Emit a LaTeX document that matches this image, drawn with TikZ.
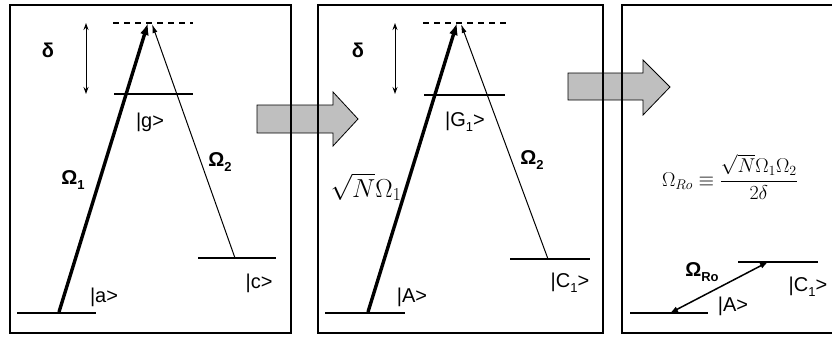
\documentclass[tikz,border=0pt]{standalone}
\usepackage{fix-cm}
\usepackage{amsmath}
\usepackage{fontspec}
\setmainfont{Liberation Sans}
\usetikzlibrary{arrows.meta}
\usetikzlibrary{positioning}
\newcommand{\sbx}[1]{\raisebox{-0.45ex}{\fontsize{13}{13}\selectfont #1}}

\begin{document}
\begin{tikzpicture}[x=1pt,y=-1pt,
  every node/.style={inner sep=0pt,font=\fontsize{20}{20}\selectfont},
  lvl/.style={line width=1.5pt},
  frame/.style={line width=1.5pt},
  strong/.style={-{Latex[length=12pt,width=9pt]},line width=3.4pt},
  weak/.style={-{Latex[length=9pt,width=5pt]},line width=1pt},
  gap/.style={{Stealth[length=7pt,width=5pt]}-{Stealth[length=7pt,width=5pt]},line width=1pt},
  rabi/.style={{Latex[length=8pt,width=6pt]}-{Latex[length=8pt,width=6pt]},line width=1.5pt},
  virt/.style={line width=1.5pt,dash pattern=on 6pt off 5pt},
  flow/.style={fill=black!25,draw=black,line width=0.8pt},
  big/.style={font=\fontsize{20}{20}\selectfont\bfseries},
]
\useasboundingbox (0,0) rectangle (832,337);
\clip (0,0) rectangle (832,337);
% block arrows between the panels
\draw[flow] (257,105) -- (333,105) -- (333,92) -- (358,119) -- (333,146) -- (333,133) -- (257,133) -- cycle;
\draw[flow] (568,73) -- (643,73) -- (643,60) -- (670,87) -- (643,115) -- (643,100) -- (568,100) -- cycle;
% frames
\draw[frame] (10,5) rectangle (291,333);
\draw[frame] (318,5) rectangle (603,333);
\draw[frame] (622,5) rectangle (845,333);

% panel 1
\draw[virt] (113,23) -- (193,23);
\draw[lvl] (114,94) -- (193,94);
\draw[lvl] (17,313) -- (96,313);
\draw[lvl] (198,258) -- (276,258);
\coordinate (top1) at (148,23); \coordinate (top1b) at (152,24);
\coordinate (a1) at (59,312); \coordinate (c1) at (235,258);
\coordinate (d1t) at (86,23); \coordinate (d1b) at (86,94);
\draw[strong] (a1) -- (top1);
\draw[weak] (c1) -- (top1b);
\draw[gap] (d1t) -- (d1b);
\node[big] (delta1) at (48,50) {δ};
\node (ka) at (104,297) {|a>};
\node (kg) at (150,122) {|g>};
\node (kc) at (259,283) {|c>};
\node[big] (om1) at (73,180) {Ω\sbx{1}};
\node[big] (om2) at (220,162) {Ω\sbx{2}};

% panel 2
\draw[virt] (423,23) -- (507,23);
\draw[lvl] (424,95) -- (505,95);
\draw[lvl] (325,313) -- (405,313);
\draw[lvl] (510,259) -- (590,259);
\coordinate (top2) at (457,23); \coordinate (top2b) at (461,24);
\coordinate (a2) at (368,312); \coordinate (c2) at (548,259);
\coordinate (d2t) at (395,23); \coordinate (d2b) at (395,94);
\draw[strong] (a2) -- (top2);
\draw[weak] (c2) -- (top2b);
\draw[gap] (d2t) -- (d2b);
\node[big] (delta2) at (358,50) {δ};
\node (kA) at (412,297) {|A>};
\node (kG) at (465,122) {|G\sbx{1}>};
\node (kC) at (570,283) {|C\sbx{1}>};
\node (om1n) at (366,187) {\fontsize{26}{26}\selectfont$\sqrt{N}\Omega_1$};
\node[big] (om2n) at (532,160) {Ω\sbx{2}};

% panel 3
\draw[lvl] (630,313) -- (708,313);
\draw[lvl] (738,262) -- (818,262);
\coordinate (a3) at (670,313); \coordinate (c3) at (768,262);
\draw[rabi] (a3) -- (c3);
\node[big] (omro) at (702,272) {Ω\sbx{Ro}};
\node (kA3) at (733,306) {|A>};
\node (kC3) at (808,287) {|C\sbx{1}>};
\node (eff) at (730,177) {\fontsize{20}{20}\selectfont$\Omega_{Ro}\equiv\dfrac{\sqrt{N}\Omega_1\Omega_2}{2\delta}$};
\end{tikzpicture}
\end{document}
